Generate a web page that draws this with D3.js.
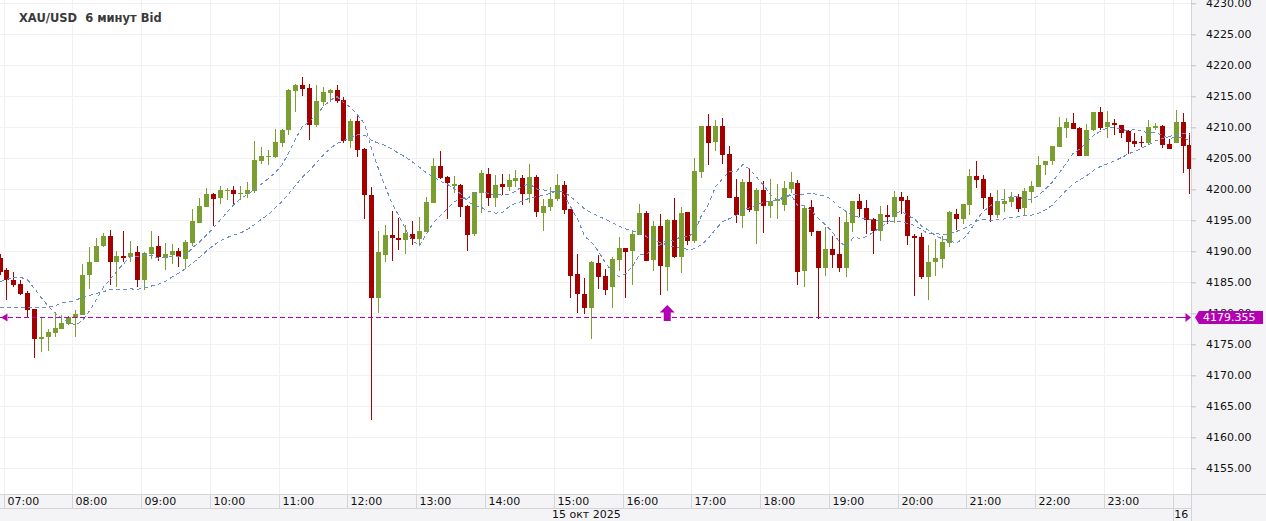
<!DOCTYPE html>
<html><head><meta charset="utf-8">
<script src="https://cdn.jsdelivr.net/npm/d3@7"></script>
<style>
body{margin:0;background:#fff;}
svg{display:block;font-family:"DejaVu Sans",Verdana,sans-serif;}
</style>
</head><body>
<svg id="c" width="1266" height="521"></svg>
<script>
// ---------- data ----------
const title = "XAU/USD  6 минут Bid";
const startTime = "2025-10-15T06:54";   // first candle (6-minute bars)
const stepMinutes = 6;
const open = [
4188.9,4187.0,4185.3,4184.7,4183.3,4180.7,4175.9,4176.1,4176.9,4177.5,
4178.3,4179.3,4179.8,4186.1,4188.3,4190.8,4192.5,4188.2,4189.2,4189.1,
4189.9,4185.4,4189.6,4190.9,4189.0,4189.4,4190.0,4188.8,4191.4,4194.6,
4197.2,4199.2,4198.6,4199.8,4199.9,4199.2,4199.2,4199.7,4204.6,4205.2,
4205.2,4207.5,4209.6,4215.9,4216.8,4216.3,4210.4,4214.1,4215.5,4216.0,
4214.4,4207.8,4211.0,4206.5,4199.1,4182.5,4189.4,4192.6,4192.2,4191.8,
4192.8,4192.0,4193.1,4197.8,4203.8,4202.0,4200.5,4200.7,4197.3,4192.8,
4199.4,4202.5,4198.6,4200.9,4200.4,4201.3,4201.8,4199.2,4202.0,4196.2,
4197.1,4198.4,4200.7,4196.8,4186.3,4183.1,4180.9,4188.1,4186.0,4184.2,
4188.6,4190.5,4190.0,4192.6,4196.2,4188.6,4194.1,4187.5,4195.0,4189.1,
4196.3,4191.7,4202.8,4210.2,4207.6,4210.2,4205.7,4198.8,4195.7,4201.2,
4196.5,4199.9,4197.3,4198.1,4197.5,4200.1,4201.0,4186.8,4197.1,4193.3,
4187.3,4190.4,4189.6,4187.3,4194.6,4198.1,4197.0,4195.2,4193.3,4195.9,
4195.5,4198.8,4198.3,4192.5,4192.3,4185.9,4188.3,4188.8,4191.3,4196.0,
4195.2,4197.5,4202.1,4201.7,4198.7,4195.9,4197.7,4198.0,4198.8,4197.0,
4199.6,4200.4,4204.0,4204.5,4206.9,4209.9,4210.7,4209.9,4205.4,4209.6,
4212.5,4210.1,4210.7,4210.4,4209.4,4207.8,4207.6,4207.5,4209.9,4210.2,
4207.3,4207.5,4210.9,4207.1];
const high = [
4189.6,4187.3,4186.7,4185.4,4183.6,4180.7,4179.3,4177.5,4180.2,4179.7,
4179.6,4180.5,4188.0,4190.7,4192.1,4193.0,4193.4,4190.0,4193.3,4191.7,
4190.9,4189.9,4193.3,4192.5,4191.3,4191.2,4190.5,4191.8,4196.8,4198.6,
4200.2,4199.4,4200.5,4200.2,4200.5,4200.5,4201.2,4207.8,4206.8,4206.3,
4209.7,4209.7,4216.2,4217.0,4218.1,4217.0,4216.8,4216.5,4216.2,4216.8,
4214.9,4211.3,4211.8,4206.7,4200.4,4193.3,4194.2,4196.5,4195.4,4194.2,
4194.9,4195.5,4198.8,4205.0,4206.2,4202.1,4202.1,4200.9,4197.5,4199.6,
4203.1,4203.4,4202.3,4202.5,4202.5,4203.1,4202.3,4204.1,4202.3,4198.4,
4200.4,4202.5,4201.3,4196.8,4189.6,4185.7,4188.4,4189.4,4187.2,4189.1,
4192.3,4190.5,4193.4,4197.6,4196.5,4194.9,4196.0,4195.2,4198.6,4197.1,
4196.3,4205.0,4210.2,4212.1,4211.2,4211.5,4207.0,4201.7,4201.7,4203.4,
4200.2,4201.3,4201.7,4200.9,4201.3,4202.8,4201.5,4197.3,4198.3,4193.3,
4193.9,4192.5,4195.5,4196.3,4198.1,4199.2,4198.3,4195.4,4197.3,4197.5,
4199.7,4199.6,4198.9,4192.8,4193.0,4191.0,4192.0,4192.5,4196.5,4196.8,
4197.6,4203.3,4204.6,4202.3,4199.4,4199.9,4200.0,4199.6,4199.2,4200.2,
4201.3,4205.4,4204.6,4207.0,4211.7,4211.5,4212.3,4210.0,4210.5,4212.5,
4213.3,4212.6,4211.3,4210.4,4209.6,4209.1,4208.6,4211.2,4210.7,4210.4,
4208.1,4212.8,4212.3,4209.1];
const low = [
4186.2,4182.1,4184.2,4182.9,4179.3,4172.8,4173.8,4174.0,4176.2,4177.5,
4178.1,4176.2,4179.7,4183.9,4188.2,4190.7,4184.5,4184.3,4188.3,4188.2,
4184.3,4183.8,4188.8,4188.5,4187.0,4187.9,4187.5,4187.2,4190.9,4194.6,
4197.2,4194.1,4197.7,4198.3,4197.5,4198.3,4198.6,4199.4,4204.1,4203.9,
4205.1,4206.8,4208.8,4212.5,4215.0,4208.0,4210.0,4213.4,4214.1,4213.9,
4207.5,4206.7,4205.2,4195.2,4162.8,4180.0,4188.3,4188.4,4190.2,4189.6,
4191.0,4190.9,4193.1,4197.8,4201.7,4195.2,4199.4,4195.5,4190.0,4192.5,
4196.2,4197.3,4197.1,4199.1,4199.7,4200.4,4197.5,4197.8,4195.5,4193.3,
4196.5,4198.1,4196.0,4182.5,4180.0,4179.9,4175.9,4183.9,4182.9,4180.9,
4186.8,4182.5,4184.6,4192.6,4188.4,4186.8,4182.9,4183.6,4188.9,4186.5,
4191.0,4191.3,4201.8,4203.9,4206.2,4204.1,4198.6,4194.6,4193.8,4196.3,
4191.2,4193.0,4195.4,4195.2,4196.5,4199.4,4184.6,4184.2,4192.5,4179.1,
4186.0,4187.3,4186.7,4185.9,4193.1,4195.5,4192.8,4189.6,4191.7,4194.4,
4194.6,4196.0,4191.0,4182.8,4185.5,4182.1,4186.0,4187.3,4190.7,4193.4,
4194.4,4195.9,4200.2,4196.8,4194.8,4195.3,4196.3,4197.2,4196.4,4195.9,
4197.8,4200.3,4202.3,4203.9,4206.9,4208.3,4209.8,4205.4,4205.4,4209.4,
4209.6,4208.2,4208.8,4208.3,4205.7,4206.8,4206.8,4207.2,4209.6,4206.7,
4206.5,4207.5,4202.7,4199.3];
const close = [
4186.7,4185.3,4184.6,4183.1,4180.6,4175.9,4176.2,4177.0,4177.6,4178.4,
4179.4,4179.9,4186.2,4188.3,4190.9,4192.5,4188.2,4189.2,4189.0,4189.7,
4185.4,4189.8,4190.7,4189.1,4189.6,4190.0,4189.1,4191.5,4194.9,4197.3,
4199.2,4198.4,4199.9,4199.9,4199.2,4199.4,4199.9,4204.7,4205.4,4205.4,
4207.6,4209.6,4216.0,4216.8,4216.2,4210.4,4214.2,4215.7,4216.0,4214.2,
4207.8,4211.0,4206.3,4199.1,4182.5,4189.9,4192.6,4192.2,4191.9,4193.0,
4192.0,4193.3,4198.0,4203.8,4201.8,4201.0,4200.9,4197.1,4192.6,4199.6,
4202.6,4198.6,4200.7,4200.4,4201.5,4201.8,4199.2,4202.0,4196.3,4197.3,
4198.4,4200.7,4196.7,4186.0,4183.1,4180.9,4188.3,4185.9,4183.8,4188.8,
4190.5,4189.9,4192.8,4196.2,4188.4,4194.1,4187.6,4195.0,4189.1,4196.2,
4191.7,4203.0,4210.2,4207.5,4210.2,4205.5,4198.6,4195.9,4201.2,4196.7,
4199.9,4197.3,4198.1,4198.4,4200.2,4201.2,4186.7,4197.0,4193.1,4187.3,
4190.4,4189.4,4187.3,4194.7,4198.1,4196.8,4195.0,4193.3,4196.0,4195.5,
4198.8,4198.1,4192.5,4192.1,4185.9,4188.3,4188.9,4191.5,4196.3,4195.2,
4197.6,4202.1,4201.5,4198.6,4195.9,4198.1,4198.1,4198.8,4196.9,4199.7,
4200.5,4203.9,4204.6,4207.0,4210.0,4210.9,4209.8,4205.4,4209.6,4212.5,
4209.9,4210.9,4210.3,4209.1,4207.7,4207.3,4207.5,4210.0,4210.2,4207.2,
4206.5,4210.9,4207.0,4203.3];
// moving averages: simple MA of closes (8 and 20 bars); values before the
// first complete window were read off the picture
const fastPeriod = 8, slowPeriod = 20;
const fastStart = [4185.1,4185.5,4185.8,4185.8,4185.4,4184.0,4182.5];
const slowStart = [4181.0,4181.0,4181.0,4181.0,4181.0,4181.0,4181.0,4181.0,4181.2,4181.7,
                   4181.8,4182.1,4182.6,4182.9,4183.2,4183.5,4183.8,4183.9,4183.9];
const yTicks = [4155,4160,4165,4170,4175,4180,4185,4190,4195,4200,4205,4210,4215,4220,4225,4230];
const hourLabelsFrom = "2025-10-15T07:00", dayEnd = "2025-10-16T00:00";
const dateLabels = ["15 окт 2025", "16"];
const priceLevel = 4179.355;
const markerTime = "2025-10-15T16:36";

// ---------- layout ----------
const W = 1266, H = 521, plotR = 1191, plotB = 494, rowB = 508;
const up = "#7a9f30", down = "#a30000", maColor = "#6d8dc8", mag = "#b300b3";
const svg = d3.select("#c");
const y = d3.scaleLinear().domain([4155, 4230]).range([468.3, 3.3]);
const x = d3.scaleTime().domain([new Date(hourLabelsFrom), new Date(dayEnd)]).range([3.5, 1172.8]);

const t0 = new Date(startTime);
const bars = open.map((o, i) => {
  const t = d3.timeMinute.offset(t0, stepMinutes * i);
  return {i, t, mid: d3.timeMinute.offset(t, stepMinutes / 2), o, h: high[i], l: low[i], c: close[i]};
});
function sma(p, start) {
  return bars.map((b, i) => i < p - 1 ? start[i] : d3.mean(close.slice(i - p + 1, i + 1)));
}
const fast = sma(fastPeriod, fastStart), slow = sma(slowPeriod, slowStart);

svg.append("rect").attr("width", W).attr("height", H).attr("fill", "#fff");
svg.append("defs").append("clipPath").attr("id", "pc")
  .append("rect").attr("x", 0).attr("y", 0).attr("width", plotR).attr("height", plotB);
const plot = svg.append("g").attr("clip-path", "url(#pc)");

// grid
const hours = d3.timeHour.range(new Date(hourLabelsFrom), d3.timeMinute.offset(new Date(dayEnd), 1));
plot.append("g").selectAll("line").data(yTicks).join("line")
  .attr("x1", 0).attr("x2", plotR)
  .attr("y1", d => Math.round(y(d)) + 0.5).attr("y2", d => Math.round(y(d)) + 0.5)
  .attr("stroke", "#f1f1f3").attr("shape-rendering", "crispEdges");
plot.append("g").selectAll("line").data(hours).join("line")
  .attr("x1", d => Math.round(x(d)) + 0.5).attr("x2", d => Math.round(x(d)) + 0.5)
  .attr("y1", 0).attr("y2", plotB)
  .attr("stroke", "#f1f1f3").attr("shape-rendering", "crispEdges");

// candles
const cg = plot.append("g").attr("shape-rendering", "crispEdges");
const left = b => Math.round(x(b.mid) - 2.5);
cg.selectAll("line").data(bars).join("line")
  .attr("x1", b => left(b) + 2.5).attr("x2", b => left(b) + 2.5)
  .attr("y1", b => Math.round(y(b.h))).attr("y2", b => Math.round(y(b.l)))
  .attr("stroke", b => b.c >= b.o ? up : down);
cg.selectAll("rect").data(bars).join("rect")
  .attr("x", b => left(b)).attr("width", 5)
  .attr("y", b => Math.round(y(Math.max(b.o, b.c))))
  .attr("height", b => Math.max(1, Math.round(y(Math.min(b.o, b.c))) - Math.round(y(Math.max(b.o, b.c)))))
  .attr("fill", b => b.c >= b.o ? up : down);

// moving averages
const line = d3.line().x((d, i) => x(bars[i].mid)).y(d => y(d));
[slow, fast].forEach(s => plot.append("path").attr("d", line(s))
  .attr("fill", "none").attr("stroke", maColor).attr("stroke-width", 1)
  .attr("stroke-dasharray", "4,3").attr("shape-rendering", "crispEdges"));

// horizontal price level
const py = Math.round(y(priceLevel)) + 0.5;
plot.append("line").attr("x1", 0).attr("x2", plotR).attr("y1", py).attr("y2", py)
  .attr("stroke", mag).attr("stroke-dasharray", "5,3");
plot.append("path").attr("d", `M1,${py}L7.5,${py - 4}L7.5,${py + 4}Z`).attr("fill", mag);
plot.append("path").attr("d", `M1191,${py}L1185.5,${py - 4.5}L1185.5,${py + 4.5}Z`).attr("fill", mag);
plot.append("line").attr("x1", 1180).attr("x2", 1186).attr("y1", py).attr("y2", py).attr("stroke", mag);
// up marker
const mx = x(d3.timeMinute.offset(new Date(markerTime), 3));
plot.append("path")
  .attr("d", `M${mx},${py - 12.5}L${mx + 7.5},${py - 5}L${mx + 3.5},${py - 5}L${mx + 3.5},${py + 3.5}L${mx - 3.5},${py + 3.5}L${mx - 3.5},${py - 5}L${mx - 7.5},${py - 5}Z`)
  .attr("fill", mag);

// title
svg.append("text").attr("x", 19).attr("y", 22).text(title)
  .style("white-space", "pre").attr("xml:space", "preserve")
  .attr("font-size", 11.5).attr("font-weight", "bold").attr("fill", "#3a3a3a");

// axis panels
const panel = "#f4f4f7", border = "#d3d3d8";
svg.append("rect").attr("x", plotR).attr("y", 0).attr("width", W - plotR).attr("height", H).attr("fill", panel);
svg.append("rect").attr("x", 0).attr("y", plotB).attr("width", W).attr("height", H - plotB).attr("fill", panel);
const bl = svg.append("g").attr("stroke", border).attr("shape-rendering", "crispEdges");
bl.append("line").attr("x1", plotR + 0.5).attr("x2", plotR + 0.5).attr("y1", 0).attr("y2", H);
bl.append("line").attr("x1", 0).attr("x2", W).attr("y1", plotB + 0.5).attr("y2", plotB + 0.5);
bl.append("line").attr("x1", 0).attr("x2", plotR).attr("y1", rowB + 0.5).attr("y2", rowB + 0.5);
bl.selectAll(".h").data(hours).join("line")
  .attr("x1", d => Math.round(x(d)) + 0.5).attr("x2", d => Math.round(x(d)) + 0.5)
  .attr("y1", plotB).attr("y2", d => +d === +new Date(dayEnd) ? H : rowB);

// y axis
const gy = svg.append("g").attr("transform", `translate(${plotR},0)`)
  .call(d3.axisRight(y).tickValues(yTicks).tickFormat(d3.format(".2f")).tickSize(5).tickPadding(10));
gy.select(".domain").remove();
gy.selectAll("line").attr("stroke", "#c0c0c6");
gy.selectAll("text").attr("font-family", "DejaVu Sans").attr("font-size", 11).attr("fill", "#111");

// x labels
svg.append("g").selectAll("text").data(hours.filter(d => +d !== +new Date(dayEnd))).join("text")
  .attr("x", d => Math.round(x(d)) + 3.5).attr("y", 501.5).attr("dy", "0.35em")
  .attr("font-size", 11).attr("fill", "#111").text(d3.timeFormat("%H:%M"));
svg.append("text").attr("x", (0 + x(new Date(dayEnd))) / 2).attr("y", 514.5).attr("dy", "0.35em")
  .attr("text-anchor", "middle").attr("font-size", 11).attr("fill", "#111").text(dateLabels[0]);
svg.append("text").attr("x", x(new Date(dayEnd)) + 1.5).attr("y", 514.5).attr("dy", "0.35em")
  .attr("font-size", 11).attr("fill", "#111").text(dateLabels[1]);

// price label box
svg.append("path").attr("d", `M1195,${py}L1199,${py - 6.5}L1263,${py - 6.5}L1263,${py + 6.5}L1199,${py + 6.5}Z`)
  .attr("fill", mag);
svg.append("text").attr("x", 1203).attr("y", py).attr("dy", "0.36em").attr("font-size", 11)
  .attr("fill", "#fff").text(d3.format(".3f")(priceLevel));
</script>
</body></html>
